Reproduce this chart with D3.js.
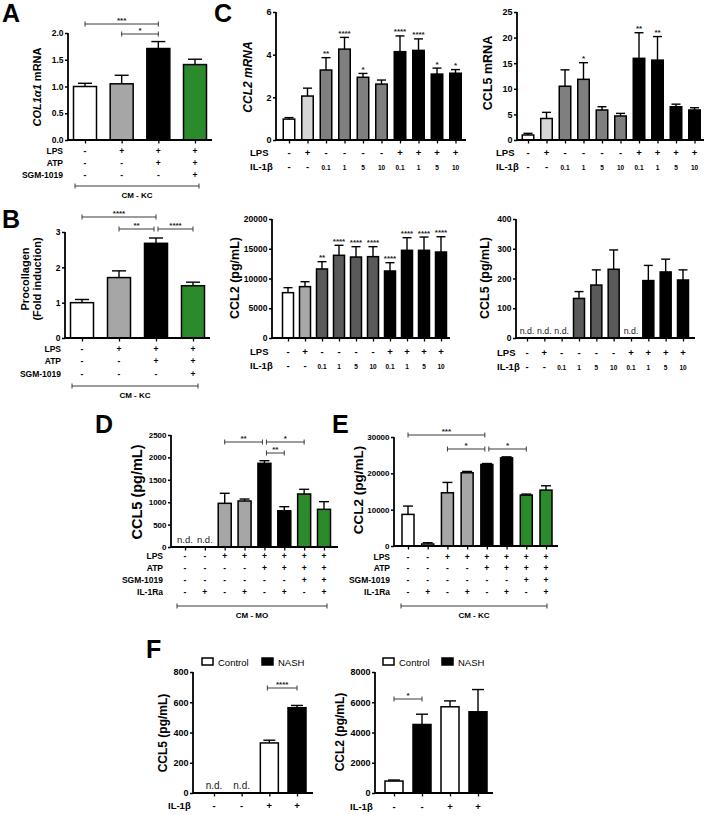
<!DOCTYPE html>
<html><head><meta charset="utf-8">
<script src="https://cdn.jsdelivr.net/npm/d3@7"></script>
<style>body{margin:0;background:#fff}svg{display:block;font-family:Arial,"Liberation Sans",Helvetica,sans-serif}</style>
</head><body><script>
// ---------------- DATA ----------------
// Panel A: COL1a1 mRNA
const A_values=[1.0,1.05,1.71,1.41];
const A_sem=[0.06,0.16,0.13,0.10];
// Panel B: Procollagen fold induction
const B_values=[1.0,1.71,2.68,1.48];
const B_sem=[0.09,0.19,0.15,0.10];
const AB_LPS=['-','+','+','+'];
const AB_ATP=['-','-','+','+'];
const AB_SGM=['-','-','-','+'];
// Panel C
const C_LPS=['-','+','-','-','-','-','+','+','+','+'];
const C_IL1B=['-','-','0.1','1','5','10','0.1','1','5','10'];
const C_CCL2mRNA=[0.98,2.06,3.28,4.26,2.94,2.62,4.14,4.20,3.09,3.13];
const C_CCL2mRNA_sem=[0.07,0.37,0.58,0.55,0.18,0.19,0.74,0.54,0.28,0.17];
const C_CCL2mRNA_sig=['','','**','****','*','','****','****','*','*'];
const C_CCL5mRNA=[0.98,4.2,10.5,11.85,5.86,4.69,15.95,15.6,6.5,5.86];
const C_CCL5mRNA_sem=[0.32,1.2,3.2,3.25,0.64,0.51,5.0,4.6,0.5,0.44];
const C_CCL5mRNA_sig=['','','','*','','','**','**','',''];
const C_CCL2prot=[7620,8630,11600,13900,13610,13670,11260,14740,14740,14450];
const C_CCL2prot_sem=[840,830,1230,1680,1740,1680,1400,2120,2230,2570];
const C_CCL2prot_sig=['','','**','****','****','****','****','****','****','****'];
const C_CCL5prot=[null,null,null,133,178,231,null,193,222,195];
const C_CCL5prot_sem=[0,0,0,23,51,65,0,51,43,34];
// Panel D: CCL5 (CM-MO)
const DE_LPS=['-','-','+','+','+','+','+','+'];
const DE_ATP=['-','-','-','-','+','+','+','+'];
const DE_SGM=['-','-','-','-','-','-','+','+'];
const DE_IL1RA=['-','+','-','+','-','+','-','+'];
const D_values=[null,null,975,1027,1868,810,1183,841];
const D_sem=[0,0,224,44,58,90,105,171];
// Panel E: CCL2 (CM-KC)
const E_values=[8700,550,14650,20150,22440,24270,14010,15380];
const E_sem=[2290,350,2850,370,260,270,280,1190];
// Panel F
const F_groups=['Control','NASH'];
const F_IL1B=['-','-','+','+'];
const F_CCL5=[null,null,331,564];
const F_CCL5_sem=[0,0,18,15];
const F_CCL2=[790,4530,5700,5370];
const F_CCL2_sem=[68,680,390,1470];

// ---------------- DRAW ----------------
const svg=d3.select('body').append('svg').attr('width',708).attr('height',815);
const GREEN='#2b8a2b', GRAY='#a6a6a6';

function letter(t,x,y){svg.append('text').attr('x',x).attr('y',y).attr('font-size',25).attr('font-weight','bold').text(t);}

function bracket(g,x1,x2,yy,txt,fs){
  g.append('path').attr('d',`M${x1},${yy-2.5}V${yy+2.5}M${x1},${yy}H${x2}M${x2},${yy-2.5}V${yy+2.5}`)
    .attr('stroke','#3a3a3a').attr('stroke-width',1).attr('fill','none');
  if(txt) g.append('text').attr('x',(x1+x2)/2).attr('y',yy-1).attr('text-anchor','middle')
    .attr('font-size',fs||8).attr('font-weight','bold').attr('fill','#222').text(txt);
}

function barPanel(p){
  const g=svg.append('g');
  const n=p.values.length;
  const y=d3.scaleLinear().domain([0,p.ymax]).range([p.y0,p.y1]);
  const x=d3.scalePoint().domain(d3.range(n)).range([p.c0,p.c1]);
  p.values.forEach((v,i)=>{
    const cx=x(i);
    if(v==null){
      if(p.nd) g.append('text').attr('x',cx).attr('y',y(0)-4).attr('text-anchor','middle')
        .attr('font-size',p.ndfs||10).attr('fill','#222').text('n.d.');
      return;
    }
    const top=y(v+p.sem[i]);
    g.append('line').attr('x1',cx).attr('x2',cx).attr('y1',y(v)).attr('y2',top).attr('stroke','#000').attr('stroke-width',1.4);
    g.append('line').attr('x1',cx-p.cap).attr('x2',cx+p.cap).attr('y1',top).attr('y2',top).attr('stroke','#000').attr('stroke-width',1.4);
    g.append('rect').attr('x',cx-p.bw/2).attr('y',y(v)).attr('width',p.bw).attr('height',y(0)-y(v))
      .attr('fill',p.fills[i]).attr('stroke','#000').attr('stroke-width',1.5);
    if(p.sig && p.sig[i]) g.append('text').attr('x',cx).attr('y',top-1.5).attr('text-anchor','middle')
      .attr('font-size',8).attr('font-weight','bold').attr('fill','#222').text(p.sig[i]);
  });
  const ya=g.append('g').attr('transform',`translate(${p.ax},0)`)
    .call(d3.axisLeft(y).tickValues(p.ticks).tickSize(3).tickSizeOuter(0).tickFormat(p.fmt||(d=>d)));
  ya.select('.domain').attr('stroke-width',1.8).attr('d',`M0,${p.y0+0.9}V${p.y1}`);
  ya.selectAll('.tick line').attr('stroke-width',1.5);
  ya.selectAll('.tick text').attr('font-size',p.tfs||8.5).attr('font-weight','bold').attr('font-family','Arial, Liberation Sans, sans-serif').attr('x',-4.5);
  g.append('line').attr('x1',p.ax).attr('x2',p.xend).attr('y1',p.y0).attr('y2',p.y0).attr('stroke','#000').attr('stroke-width',1.8);
  const xa=g.append('g').attr('transform',`translate(0,${p.y0})`).call(d3.axisBottom(x).tickSize(3.5).tickFormat(''));
  xa.select('.domain').remove();
  xa.selectAll('.tick line').attr('stroke-width',1.3);
  const tt=g.append('text').attr('transform',`translate(${p.tx},${p.ty}) rotate(-90)`).attr('text-anchor','middle')
    .attr('dominant-baseline','central').attr('font-size',p.tfsz).attr('font-weight','bold');
  if(Array.isArray(p.title)){
    p.title.forEach((t,k)=>{tt.append('tspan').attr('x',0).attr('dy',k?p.tfsz*1.1:-(p.title.length-1)*p.tfsz*0.55).text(t);});
  } else if(p.titleParts){
    p.titleParts.forEach(tp=>tt.append('tspan').attr('font-style',tp.it?'italic':'normal').text(tp.t));
  } else tt.text(p.title);
  (p.rows||[]).forEach(r=>{
    g.append('text').attr('x',p.rlx).attr('y',r.y+3).attr('text-anchor',p.ranchor||'end').attr('font-size',p.rfs||8.5)
      .attr('font-weight','bold').text(r.name);
    r.vals.forEach((v,i)=>{
      const num=!isNaN(parseFloat(v));
      g.append('text').attr('x',x(i)).attr('y',r.y+3).attr('text-anchor','middle').attr('fill','#000')
        .attr('font-size',num?6.5:(p.rfs||8.5)).attr('font-weight','bold').text(v);
    });
  });
  (p.brackets||[]).forEach(b=>bracket(g,x(b[0])+(b[4]||0),x(b[1])+(b[5]||0),b[3],b[2],b[6]));
  if(p.group){
    const gb=p.group;
    bracket(g,gb.x1,gb.x2,gb.y,null);
    g.append('text').attr('x',(gb.x1+gb.x2)/2).attr('y',gb.y+12).attr('text-anchor','middle').attr('font-size',8)
      .attr('font-weight','bold').text(gb.label);
  }
  if(p.legend){
    p.legend.forEach((l,k)=>{
      g.append('rect').attr('x',l.x).attr('y',l.y-4).attr('width',11).attr('height',7).attr('fill',k?'#000':'#fff').attr('stroke','#000').attr('stroke-width',1.5);
      g.append('text').attr('x',l.x+16).attr('y',l.y+3.5).attr('font-size',9.5).text(F_groups[k]);
    });
  }
  return g;
}

// Panel A
letter('A',2,22);
barPanel({values:A_values,sem:A_sem,fills:['#fff',GRAY,'#000',GREEN],ymax:2,y0:140,y1:33,ax:68,xend:212,c0:85,c1:195,bw:23,cap:7,
  ticks:[0,0.5,1,1.5,2],fmt:d3.format('.1f'),tx:37,ty:87,tfsz:11,titleParts:[{t:'COL1\u03B11',it:1},{t:' mRNA'}],
  rlx:63,rows:[{name:'LPS',y:151,vals:AB_LPS},{name:'ATP',y:163,vals:AB_ATP},{name:'SGM-1019',y:175,vals:AB_SGM}],
  brackets:[[0,2,'***',24],[1,2,'*',34]],group:{x1:75,x2:199,y:186,label:'CM - KC'}});

// Panel B
letter('B',2,228);
barPanel({values:B_values,sem:B_sem,fills:['#fff',GRAY,'#000',GREEN],ymax:3,y0:338,y1:232,ax:65,xend:210,c0:82,c1:193,bw:23,cap:7,
  ticks:[0,1,2,3],tx:31,ty:279,tfsz:11,title:['Procollagen','(Fold induction)'],
  rlx:61,rows:[{name:'LPS',y:349,vals:AB_LPS},{name:'ATP',y:361,vals:AB_ATP},{name:'SGM-1019',y:374,vals:AB_SGM}],
  brackets:[[0,2,'****',217],[1,2,'**',229,0,-2],[2,3,'****',229,2,0]],group:{x1:72,x2:198,y:386,label:'CM - KC'}});

// Panel C
letter('C',214,22);
const fillsCm=['#fff','#d6d6d6','#7f7f7f','#7f7f7f','#7f7f7f','#7f7f7f','#000','#000','#000','#000'];
const fillsCp=['#fff','#a8a8a8','#5a5a5a','#5a5a5a','#5a5a5a','#5a5a5a','#000','#000','#000','#000'];
barPanel({values:C_CCL2mRNA,sem:C_CCL2mRNA_sem,sig:C_CCL2mRNA_sig,fills:fillsCm,ymax:6,y0:140,y1:12,ax:276,xend:466,c0:289,c1:455.5,bw:11.5,cap:4.5,
  ticks:[0,2,4,6],tx:248,ty:77,tfsz:12,titleParts:[{t:'CCL2 mRNA',it:1}],tfs:9,
  rlx:250,ranchor:'start',rfs:9.5,rows:[{name:'LPS',y:153,vals:C_LPS},{name:'IL-1\u03B2',y:167,vals:C_IL1B}]});
barPanel({values:C_CCL5mRNA,sem:C_CCL5mRNA_sem,sig:C_CCL5mRNA_sig,fills:fillsCm,ymax:25,y0:140,y1:12,ax:517,xend:704,c0:528,c1:694.5,bw:11.5,cap:4.5,
  ticks:[0,5,10,15,20,25],tx:488,ty:73,tfsz:12.5,title:'CCL5 mRNA',tfs:9,
  rlx:496,ranchor:'start',rfs:9.5,rows:[{name:'LPS',y:153,vals:C_LPS},{name:'IL-1\u03B2',y:167,vals:C_IL1B}]});
barPanel({values:C_CCL2prot,sem:C_CCL2prot_sem,sig:C_CCL2prot_sig,fills:fillsCp,ymax:20000,y0:338,y1:219,ax:272,xend:450,c0:288,c1:441,bw:11,cap:4.5,
  ticks:[0,5000,10000,15000,20000],tx:235,ty:278,tfsz:12.5,title:'CCL2 (pg/mL)',tfs:8.5,
  rlx:250,ranchor:'start',rfs:9.5,rows:[{name:'LPS',y:352,vals:C_LPS},{name:'IL-1\u03B2',y:366,vals:C_IL1B}]});
barPanel({values:C_CCL5prot,sem:C_CCL5prot_sem,nd:1,ndfs:8.8,fills:fillsCp,ymax:400,y0:338,y1:219,ax:516,xend:695,c0:527,c1:683,bw:11,cap:4.5,
  ticks:[0,100,200,300,400],tx:485,ty:278,tfsz:12.5,title:'CCL5 (pg/mL)',tfs:8.5,
  rlx:497,ranchor:'start',rfs:9.5,rows:[{name:'LPS',y:353,vals:C_LPS},{name:'IL-1\u03B2',y:367,vals:C_IL1B}]});

// Panel D
letter('D',95,433);
const fillsDE=['#fff','#fff',GRAY,GRAY,'#000','#000',GREEN,GREEN];
barPanel({values:D_values,sem:D_sem,nd:1,ndfs:9.5,fills:fillsDE,ymax:2500,y0:547,y1:435,ax:171,xend:338,c0:185,c1:324,bw:13,cap:5,
  ticks:[0,500,1000,1500,2000,2500],tx:137,ty:492,tfsz:14.5,title:'CCL5 (pg/mL)',tfs:8,
  rlx:163,rfs:8.5,rows:[{name:'LPS',y:556,vals:DE_LPS},{name:'ATP',y:568,vals:DE_ATP},{name:'SGM-1019',y:580,vals:DE_SGM},{name:'IL-1Ra',y:592,vals:DE_IL1RA}],
  brackets:[[2,4,'**',442,0,-2],[4,6,'*',442,2,0],[4,5,'**',453,2,0]],group:{x1:177,x2:327,y:606,label:'CM - MO'}});

// Panel E
letter('E',332,433);
barPanel({values:E_values,sem:E_sem,fills:fillsDE,ymax:30000,y0:546,y1:437,ax:394,xend:558,c0:408,c1:546,bw:12,cap:5,
  ticks:[0,10000,20000,30000],tx:358,ty:490,tfsz:13.5,title:'CCL2 (pg/mL)',tfs:8,
  rlx:390,rfs:8.5,rows:[{name:'LPS',y:557,vals:DE_LPS},{name:'ATP',y:568,vals:DE_ATP},{name:'SGM-1019',y:580,vals:DE_SGM},{name:'IL-1Ra',y:592,vals:DE_IL1RA}],
  brackets:[[0,4,'***',435,0,-2],[2,4,'*',449,0,-2],[4,6,'*',449,2,0]],group:{x1:401,x2:547,y:606,label:'CM - KC'}});

// Panel F
letter('F',146,658);
barPanel({values:F_CCL5,sem:F_CCL5_sem,nd:1,ndfs:10,fills:['#fff','#000','#fff','#000'],ymax:800,y0:793,y1:672,ax:193,xend:313,c0:214,c1:297,bw:18,cap:6,
  ticks:[0,200,400,600,800],tx:163,ty:733,tfsz:12,title:'CCL5 (pg/mL)',tfs:9,
  rlx:168,ranchor:'start',rfs:9.5,rows:[{name:'IL-1\u03B2',y:806,vals:F_IL1B}],
  brackets:[[2,3,'****',688,-2,0]],legend:[{x:202,y:662},{x:262,y:662}]});
barPanel({values:F_CCL2,sem:F_CCL2_sem,fills:['#fff','#000','#fff','#000'],ymax:8000,y0:793,y1:672,ax:375,xend:493,c0:394,c1:478,bw:18,cap:6,
  ticks:[0,2000,4000,6000,8000],tx:340,ty:732,tfsz:12,title:'CCL2 (pg/mL)',tfs:9,
  rlx:350,ranchor:'start',rfs:9.5,rows:[{name:'IL-1\u03B2',y:807,vals:F_IL1B}],
  brackets:[[0,1,'*',699]],legend:[{x:383,y:662},{x:442,y:662}]});
</script></body></html>
